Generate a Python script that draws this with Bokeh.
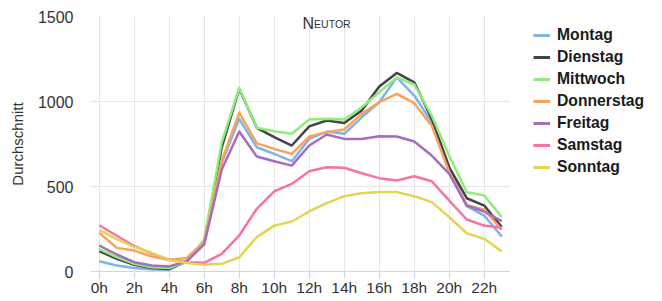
from bokeh.plotting import figure
from bokeh.layouts import row
from bokeh.models import Legend, LegendItem, Label, FixedTicker
from bokeh.embed import file_html
from bokeh.resources import INLINE

hours = list(range(24))
tick_hours = [0, 2, 4, 6, 8, 10, 12, 14, 16, 18, 20, 22]
tick_labels = ["0h", "2h", "4h", "6h", "8h", "10h", "12h", "14h", "16h", "18h", "20h", "22h"]
y_ticks = [0, 500, 1000, 1500]

montag = [60, 35, 20, 12, 10, 65, 170, 640, 898, 731, 692, 649, 780, 823, 810, 907, 996, 1142, 1035, 878, 600, 384, 329, 206]
dienstag = [120, 75, 40, 20, 15, 60, 180, 730, 1075, 845, 790, 741, 854, 888, 874, 947, 1088, 1168, 1113, 898, 613, 431, 388, 262]
mittwoch = [131, 85, 45, 25, 20, 60, 188, 760, 1080, 845, 825, 810, 894, 898, 894, 966, 1054, 1142, 1100, 917, 680, 467, 447, 320]
donnerstag = [227, 139, 123, 88, 68, 80, 175, 650, 935, 754, 721, 692, 794, 819, 835, 927, 996, 1045, 990, 858, 584, 392, 363, 245]
freitag = [153, 100, 55, 35, 30, 60, 160, 600, 823, 676, 649, 623, 741, 806, 780, 780, 796, 794, 765, 682, 574, 388, 353, 296]
samstag = [272, 210, 150, 105, 70, 55, 51, 104, 212, 369, 472, 515, 590, 613, 610, 578, 549, 535, 560, 531, 417, 306, 270, 257]
sonntag = [245, 190, 145, 110, 68, 50, 39, 45, 84, 202, 270, 294, 353, 402, 443, 461, 467, 467, 443, 408, 320, 225, 192, 118]

series_names = ["Montag", "Dienstag", "Mittwoch", "Donnerstag", "Freitag", "Samstag", "Sonntag"]
series_values = [montag, dienstag, mittwoch, donnerstag, freitag, samstag, sonntag]
series_colors = ["#7cb5ec", "#434348", "#90ed7d", "#f7a35c", "#a86cbc", "#f772a8", "#e4d354"]

FONT = "Liberation Sans"

p = figure(width=510, height=301, x_range=(-0.5, 23.5), y_range=(0, 1500),
           output_backend="svg", toolbar_location=None,
           min_border_left=90, min_border_right=0, min_border_top=16, min_border_bottom=30)
p.outline_line_color = None

p.xaxis.ticker = FixedTicker(ticks=tick_hours)
p.xaxis.major_label_overrides = {h: l for h, l in zip(tick_hours, tick_labels)}
p.xaxis.axis_line_color = "#ccd6eb"
p.xaxis.major_tick_line_color = "#ccd6eb"
p.xaxis.major_tick_out = 7
p.xaxis.major_tick_in = 0
p.xaxis.minor_tick_line_color = None
p.xaxis.major_label_standoff = 0
p.xaxis.major_label_text_font = FONT
p.xaxis.major_label_text_font_size = "15.5px"
p.xaxis.major_label_text_color = "#333333"

p.yaxis.ticker = FixedTicker(ticks=y_ticks)
p.yaxis.axis_line_color = None
p.yaxis.major_tick_line_color = None
p.yaxis.minor_tick_line_color = None
p.yaxis.major_tick_out = 0
p.yaxis.major_tick_in = 0
p.yaxis.major_label_standoff = 17
p.yaxis.major_label_text_font = FONT
p.yaxis.major_label_text_font_size = "16px"
p.yaxis.major_label_text_color = "#333333"
p.yaxis.axis_label = "Durchschnitt"
p.yaxis.axis_label_text_font = FONT
p.yaxis.axis_label_text_font_size = "15px"
p.yaxis.axis_label_text_font_style = "normal"
p.yaxis.axis_label_text_color = "#333333"
p.yaxis.axis_label_standoff = 9

p.xgrid.grid_line_color = "#e6e6e6"
p.ygrid.grid_line_color = "#e6e6e6"

for name, vals, col in zip(series_names, series_values, series_colors):
    p.line(hours, vals, line_color=col, line_width=2.5, line_join="round")

t1 = Label(x=212, y=247.7, x_units="screen", y_units="screen", text="N",
           text_font=FONT, text_font_size="16px", text_color="#333333",
           text_baseline="alphabetic")
t2 = Label(x=223.6, y=247.7, x_units="screen", y_units="screen", text="EUTOR",
           text_font=FONT, text_font_size="10.5px", text_color="#333333",
           text_baseline="alphabetic")
p.add_layout(t1)
p.add_layout(t2)

# legend panel (series drawn off-screen only to provide legend glyphs)
lp = figure(width=152, height=301, x_range=(100, 101), y_range=(-10000, -9999),
            output_backend="svg", toolbar_location=None,
            x_axis_location=None, y_axis_location=None,
            min_border_left=0, min_border_right=0, min_border_top=0, min_border_bottom=0)
lp.outline_line_color = None
lp.xgrid.visible = False
lp.ygrid.visible = False
items = []
for name, vals, col in zip(series_names, series_values, series_colors):
    r = lp.line(hours, vals, line_color=col, line_width=3)
    items.append(LegendItem(label=name, renderers=[r]))
legend = Legend(items=items, location=(23, 93), padding=0, margin=0,
                spacing=0, glyph_width=17, glyph_height=22, label_height=22,
                label_standoff=7, label_text_font=FONT, label_text_font_size="15.7px",
                label_text_font_style="bold", label_text_color="#1a1a1a",
                background_fill_alpha=0, border_line_color=None)
lp.add_layout(legend)

layout = row(p, lp, spacing=0)
open("out.html", "w").write(file_html(layout, INLINE))
